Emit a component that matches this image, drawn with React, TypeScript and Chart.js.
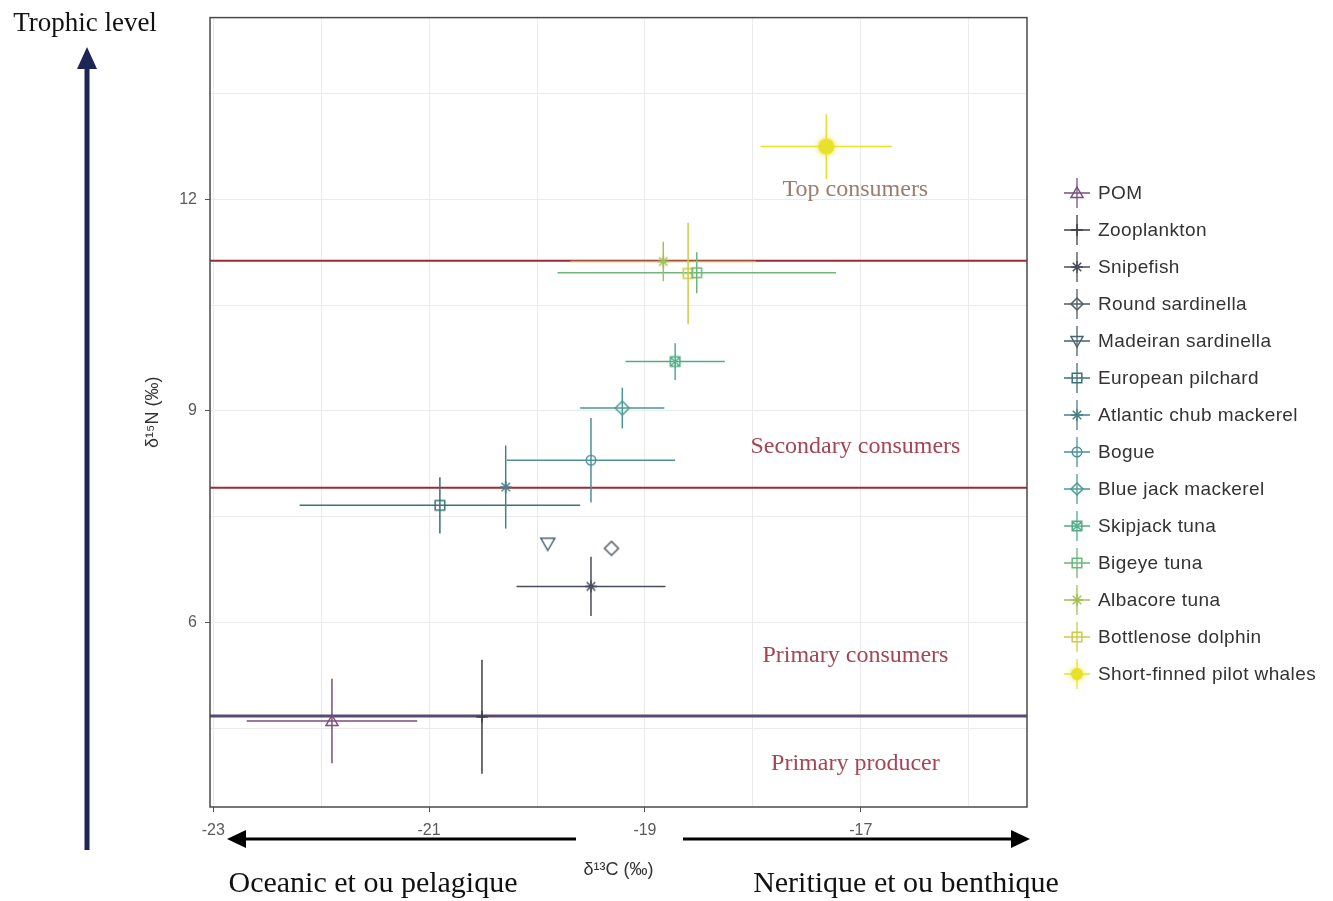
import React, { useEffect, useRef } from 'react';
import { Chart, registerables } from 'chart.js';

Chart.register(...registerables);

// ---------- data ----------
const SPECIES = [
  'POM',
  'Zooplankton',
  'Snipefish',
  'Round sardinella',
  'Madeiran sardinella',
  'European pilchard',
  'Atlantic chub mackerel',
  'Bogue',
  'Blue jack mackerel',
  'Skipjack tuna',
  'Bigeye tuna',
  'Albacore tuna',
  'Bottlenose dolphin',
  'Short-finned pilot whales',
];
const D13C_MEAN = [-21.9, -20.51, -19.5, -19.31, -19.9, -20.9, -20.29, -19.5, -19.21, -18.72, -18.52, -18.83, -18.6, -17.32];
const D15N_MEAN = [4.6, 4.66, 6.51, 7.05, 7.12, 7.66, 7.92, 8.3, 9.04, 9.7, 10.96, 11.12, 10.95, 12.75];
const D13C_SD = [0.79, 0.03, 0.69, 0, 0, 1.3, 0, 0.78, 0.39, 0.46, 1.29, 0.86, 0.05, 0.61];
const D15N_SD = [0.6, 0.81, 0.42, 0, 0, 0.4, 0.59, 0.6, 0.29, 0.26, 0.29, 0.28, 0.72, 0.46];

const LEVEL_BOUNDARIES = [11.13, 7.91, 4.67];
const LEVEL_LABELS = ['Top consumers', 'Secondary consumers', 'Primary consumers', 'Primary producer'];
const LEVEL_LABEL_N = [12.14, 8.49, 5.53, 3.99];
const LEVEL_LABEL_C = -17.05;

const X_TICKS = [-23, -22, -21, -20, -19, -18, -17, -16];
const X_TICK_LABELS = ['-23', '', '-21', '', '-19', '', '-17', ''];
const Y_TICKS = [4.5, 6, 7.5, 9, 10.5, 12, 13.5];
const Y_TICK_LABELS = ['', '6', '', '9', '', '12', ''];

const X_MIN = -23.03;
const X_MAX = -15.46;
const Y_MIN = 3.38;
const Y_MAX = 14.58;

// ---------- styles ----------
const COLORS = [
  '#7a4f7c', '#3f3f4c', '#4a4d5c', '#4f5a66', '#4a6270', '#3d7078', '#4a8189',
  '#4c9199', '#4a9b96', '#52ad89', '#6cb67a', '#a3bf55', '#cfcb45', '#e8e12c',
];
const SHAPES = [
  'triangle', 'plus', 'asterisk', 'diamond', 'invTriangle', 'square', 'asterisk',
  'circle', 'diamond', 'squareCross', 'square', 'asterisk', 'square', 'filledCircle',
];
const BOUNDARY_COLORS = ['#9e2a30', '#9e2a30', '#5c4a6e'];
const BOUNDARY_WIDTHS = [2, 2, 3];
const LEVEL_COLORS = ['#9b7d6e', '#a54555', '#a54555', '#a54555'];

const SANS = '"Liberation Sans", Arial, sans-serif';
const SERIF = '"Liberation Serif", "Times New Roman", serif';

function drawShape(ctx: CanvasRenderingContext2D, shape: string, x: number, y: number, s: number, color: string) {
  ctx.save();
  ctx.strokeStyle = color;
  ctx.fillStyle = color;
  ctx.lineWidth = 1.5;
  ctx.beginPath();
  switch (shape) {
    case 'triangle':
      ctx.moveTo(x, y - s);
      ctx.lineTo(x + s, y + s * 0.75);
      ctx.lineTo(x - s, y + s * 0.75);
      ctx.closePath();
      ctx.stroke();
      break;
    case 'invTriangle':
      ctx.moveTo(x, y + s);
      ctx.lineTo(x + s, y - s * 0.75);
      ctx.lineTo(x - s, y - s * 0.75);
      ctx.closePath();
      ctx.stroke();
      break;
    case 'plus':
      ctx.moveTo(x - s, y);
      ctx.lineTo(x + s, y);
      ctx.moveTo(x, y - s);
      ctx.lineTo(x, y + s);
      ctx.stroke();
      break;
    case 'asterisk':
      for (let k = 0; k < 4; k++) {
        const a = (k * Math.PI) / 4;
        ctx.moveTo(x - Math.cos(a) * s, y - Math.sin(a) * s);
        ctx.lineTo(x + Math.cos(a) * s, y + Math.sin(a) * s);
      }
      ctx.stroke();
      break;
    case 'diamond':
      ctx.moveTo(x, y - s);
      ctx.lineTo(x + s, y);
      ctx.lineTo(x, y + s);
      ctx.lineTo(x - s, y);
      ctx.closePath();
      ctx.stroke();
      break;
    case 'square':
      ctx.rect(x - s * 0.8, y - s * 0.8, s * 1.6, s * 1.6);
      ctx.stroke();
      break;
    case 'squareCross':
      ctx.rect(x - s * 0.8, y - s * 0.8, s * 1.6, s * 1.6);
      ctx.moveTo(x - s * 0.8, y - s * 0.8);
      ctx.lineTo(x + s * 0.8, y + s * 0.8);
      ctx.moveTo(x + s * 0.8, y - s * 0.8);
      ctx.lineTo(x - s * 0.8, y + s * 0.8);
      ctx.stroke();
      break;
    case 'circle':
      ctx.arc(x, y, s * 0.8, 0, Math.PI * 2);
      ctx.stroke();
      break;
    case 'filledCircle':
      ctx.shadowColor = color;
      ctx.shadowBlur = 6;
      ctx.arc(x, y, s, 0, Math.PI * 2);
      ctx.fill();
      break;
  }
  ctx.restore();
}

function makeMarker(shape: string, color: string, s: number): HTMLCanvasElement {
  const c = document.createElement('canvas');
  const size = Math.ceil(2 * s + 14);
  c.width = size;
  c.height = size;
  const ctx = c.getContext('2d')!;
  drawShape(ctx, shape, size / 2, size / 2, s, color);
  return c;
}

const decorPlugin = {
  id: 'decor',
  beforeDatasetsDraw(chart: any) {
    const { ctx, chartArea: a } = chart;
    const x = chart.scales.x;
    const y = chart.scales.y;
    ctx.save();
    LEVEL_BOUNDARIES.forEach((v, i) => {
      const py = y.getPixelForValue(v);
      ctx.strokeStyle = BOUNDARY_COLORS[i];
      ctx.lineWidth = BOUNDARY_WIDTHS[i];
      ctx.beginPath();
      ctx.moveTo(a.left, py);
      ctx.lineTo(a.right, py);
      ctx.stroke();
    });
    SPECIES.forEach((_, i) => {
      const cx = x.getPixelForValue(D13C_MEAN[i]);
      const cy = y.getPixelForValue(D15N_MEAN[i]);
      ctx.strokeStyle = COLORS[i];
      ctx.lineWidth = 1.5;
      ctx.beginPath();
      if (D13C_SD[i] > 0) {
        ctx.moveTo(x.getPixelForValue(D13C_MEAN[i] - D13C_SD[i]), cy);
        ctx.lineTo(x.getPixelForValue(D13C_MEAN[i] + D13C_SD[i]), cy);
      }
      if (D15N_SD[i] > 0) {
        ctx.moveTo(cx, y.getPixelForValue(D15N_MEAN[i] - D15N_SD[i]));
        ctx.lineTo(cx, y.getPixelForValue(D15N_MEAN[i] + D15N_SD[i]));
      }
      ctx.stroke();
    });
    ctx.restore();
  },
  afterDatasetsDraw(chart: any) {
    const { ctx, chartArea: a } = chart;
    const x = chart.scales.x;
    const y = chart.scales.y;
    ctx.save();
    // level labels
    ctx.font = `24px ${SERIF}`;
    ctx.textAlign = 'center';
    ctx.textBaseline = 'middle';
    LEVEL_LABELS.forEach((t, i) => {
      ctx.fillStyle = LEVEL_COLORS[i];
      ctx.fillText(t, x.getPixelForValue(LEVEL_LABEL_C), y.getPixelForValue(LEVEL_LABEL_N[i]));
    });
    // panel border
    ctx.strokeStyle = '#4a4a4a';
    ctx.lineWidth = 1.5;
    ctx.strokeRect(a.left, a.top, a.right - a.left, a.bottom - a.top);
    ctx.restore();
  },
  afterDraw(chart: any) {
    const { ctx } = chart;
    ctx.save();
    // legend
    const lx = 1077;
    const ly0 = 193;
    const step = 37;
    ctx.font = `19px ${SANS}`;
    (ctx as any).letterSpacing = '0.4px';
    ctx.textAlign = 'left';
    ctx.textBaseline = 'middle';
    SPECIES.forEach((name, i) => {
      const cy = ly0 + i * step;
      ctx.strokeStyle = COLORS[i];
      ctx.lineWidth = 1.3;
      ctx.beginPath();
      ctx.moveTo(lx - 13, cy);
      ctx.lineTo(lx + 13, cy);
      ctx.moveTo(lx, cy - 15);
      ctx.lineTo(lx, cy + 15);
      ctx.stroke();
      drawShape(ctx, SHAPES[i], lx, cy, 6, COLORS[i]);
      ctx.fillStyle = '#333333';
      ctx.fillText(name, 1098, cy + 1);
    });
    (ctx as any).letterSpacing = '0px';

    // vertical trophic arrow
    ctx.strokeStyle = '#1c2553';
    ctx.fillStyle = '#1c2553';
    ctx.lineWidth = 5;
    ctx.beginPath();
    ctx.moveTo(87, 850);
    ctx.lineTo(87, 64);
    ctx.stroke();
    ctx.beginPath();
    ctx.moveTo(87, 47);
    ctx.lineTo(97, 69);
    ctx.lineTo(77, 69);
    ctx.closePath();
    ctx.fill();

    // horizontal arrows
    ctx.strokeStyle = '#000';
    ctx.fillStyle = '#000';
    ctx.lineWidth = 3;
    ctx.beginPath();
    ctx.moveTo(576, 839);
    ctx.lineTo(244, 839);
    ctx.moveTo(683, 839);
    ctx.lineTo(1013, 839);
    ctx.stroke();
    ctx.beginPath();
    ctx.moveTo(227, 839);
    ctx.lineTo(246, 830);
    ctx.lineTo(246, 848);
    ctx.closePath();
    ctx.fill();
    ctx.beginPath();
    ctx.moveTo(1030, 839);
    ctx.lineTo(1011, 830);
    ctx.lineTo(1011, 848);
    ctx.closePath();
    ctx.fill();
    ctx.restore();
  },
};

export default function App() {
  const canvasRef = useRef<HTMLCanvasElement | null>(null);

  useEffect(() => {
    if (!canvasRef.current) return;
    const markerSize = SHAPES.map((s) => (s === 'diamond' || s === 'invTriangle' ? 7 : s === 'filledCircle' ? 8 : 6));
    const datasets = SPECIES.map((name, i) => ({
      label: name,
      data: [{ x: D13C_MEAN[i], y: D15N_MEAN[i] }],
      pointStyle: makeMarker(SHAPES[i], COLORS[i], markerSize[i]),
      pointRadius: 6,
      backgroundColor: COLORS[i],
      borderColor: COLORS[i],
      showLine: false,
    }));

    const chart = new Chart(canvasRef.current, {
      type: 'scatter',
      data: { datasets },
      plugins: [decorPlugin],
      options: {
        responsive: false,
        animation: false,
        events: [],
        layout: { padding: { left: 138, right: 306, top: 17, bottom: 16 } },
        plugins: {
          legend: { display: false },
          tooltip: { enabled: false },
        },
        scales: {
          x: {
            type: 'linear',
            min: X_MIN,
            max: X_MAX,
            afterFit: (s: any) => {
              s.height = 78;
            },
            afterBuildTicks: (s: any) => {
              s.ticks = X_TICKS.map((v) => ({ value: v }));
            },
            ticks: {
              callback: (_v: any, i: number) => X_TICK_LABELS[i],
              font: { family: SANS, size: 16 },
              color: '#5a5a5a',
              padding: 9,
              maxRotation: 0,
              autoSkip: false,
            },
            grid: {
              color: '#ebebeb',
              lineWidth: 1,
              tickLength: 5,
              tickColor: (c: any) => (X_TICK_LABELS[c.index] ? '#555' : 'rgba(0,0,0,0)'),
            },
            border: { display: false },
            title: {
              display: true,
              text: 'δ¹³C (‰)',
              font: { family: SANS, size: 18 },
              color: '#333',
              padding: { top: 4, bottom: 4 },
            },
          },
          y: {
            type: 'linear',
            min: Y_MIN,
            max: Y_MAX,
            afterFit: (s: any) => {
              s.width = 72;
            },
            afterBuildTicks: (s: any) => {
              s.ticks = Y_TICKS.map((v) => ({ value: v }));
            },
            ticks: {
              callback: (_v: any, i: number) => Y_TICK_LABELS[i],
              font: { family: SANS, size: 16 },
              color: '#5a5a5a',
              padding: 8,
              autoSkip: false,
            },
            grid: {
              color: '#ebebeb',
              lineWidth: 1,
              tickLength: 5,
              tickColor: (c: any) => (Y_TICK_LABELS[c.index] ? '#555' : 'rgba(0,0,0,0)'),
            },
            border: { display: false },
            title: {
              display: true,
              text: 'δ¹⁵N (‰)',
              font: { family: SANS, size: 18 },
              color: '#333',
              padding: { top: 4, bottom: 4 },
            },
          },
        },
      } as any,
    });
    return () => chart.destroy();
  }, []);

  const textBase: React.CSSProperties = {
    position: 'absolute',
    transform: 'translate(-50%, -50%)',
    whiteSpace: 'nowrap',
    fontFamily: SERIF,
    color: '#111',
    lineHeight: 1,
  };

  return (
    <div style={{ position: 'absolute', left: 0, top: 0, width: 1333, height: 901, background: '#fff', overflow: 'hidden' }}>
      <canvas ref={canvasRef} width={1333} height={901} style={{ display: 'block' }} />
      <div style={{ ...textBase, left: 85, top: 22, fontSize: 27 }}>Trophic level</div>
      <div style={{ ...textBase, left: 373, top: 882, fontSize: 30 }}>Oceanic et ou pelagique</div>
      <div style={{ ...textBase, left: 906, top: 882, fontSize: 30 }}>Neritique et ou benthique</div>
    </div>
  );
}
